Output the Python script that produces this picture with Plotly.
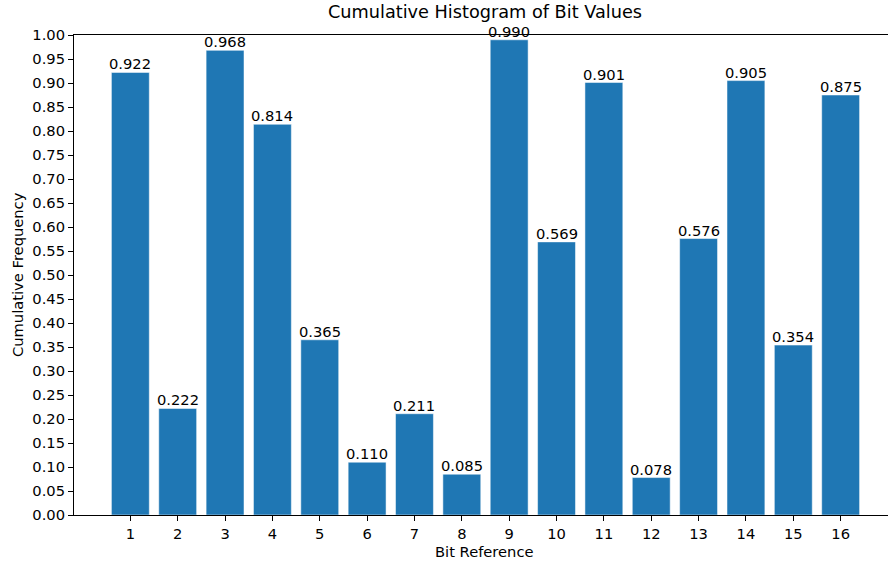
import plotly.graph_objects as go

bits = list(range(1, 17))
values = [0.922, 0.222, 0.968, 0.814, 0.365, 0.110, 0.211, 0.085,
          0.990, 0.569, 0.901, 0.078, 0.576, 0.905, 0.354, 0.875]
labels = [f"{v:.3f}" for v in values]
ytick_vals = [round(i * 0.05, 2) for i in range(21)]
ytick_text = [f"{v:.2f}" for v in ytick_vals]

FONT = "DejaVu Sans"
FS = 14.7
W, H = 888, 563
# plot area target: left 74, top 35, bottom 515, right edge of window
L, T, B, R = 74, 35, H - 515, 0

fig = go.Figure()
fig.add_trace(go.Bar(x=bits, y=values, marker=dict(color="#1f77b4", line=dict(width=0.5, color="#ffffff")),
                     width=0.8, showlegend=False, hoverinfo="skip"))
for b, v, t in zip(bits, values, labels):
    fig.add_annotation(x=b, y=v, text=t, showarrow=False, yanchor="bottom", yshift=-2,
                       font=dict(family=FONT, size=FS, color="black"))

fig.update_layout(
    width=W, height=H,
    margin=dict(l=L, r=R, t=T, b=B),
    paper_bgcolor="white", plot_bgcolor="white",
    font=dict(family=FONT, size=FS, color="black"),
    xaxis=dict(range=[-0.19, 17.0], tickvals=bits, ticktext=[str(b) for b in bits],
               showline=True, linecolor="black", linewidth=1, mirror=True,
               ticks="outside", ticklen=5, tickcolor="black", showgrid=False, zeroline=False),
    yaxis=dict(range=[0, 1.0], tickvals=ytick_vals, ticktext=ytick_text,
               showline=True, linecolor="black", linewidth=1,
               ticks="outside", ticklen=5, tickcolor="black", showgrid=False, zeroline=False),
)
pw = W - L - R
ph = H - T - B
def px_x(x):
    return (x - L) / pw
def px_y(y):
    return (H - B - y) / ph

fig.add_annotation(xref="paper", yref="paper", x=px_x(484.5), y=px_y(12), text="Cumulative Histogram of Bit Values",
                   showarrow=False, xanchor="center", yanchor="middle",
                   font=dict(family=FONT, size=17.7, color="black"))
fig.add_annotation(xref="paper", yref="paper", x=px_x(484.5), y=px_y(551), text="Bit Reference",
                   showarrow=False, xanchor="center", yanchor="middle",
                   font=dict(family=FONT, size=FS, color="black"))
fig.add_annotation(xref="paper", yref="paper", x=px_x(17), y=px_y(275), text="Cumulative Frequency",
                   showarrow=False, xanchor="center", yanchor="middle", textangle=-90,
                   font=dict(family=FONT, size=FS, color="black"))
fig.write_html("out.html", config={"displayModeBar": False},
               post_script="document.body.style.margin='0';document.body.style.overflow='hidden';")
